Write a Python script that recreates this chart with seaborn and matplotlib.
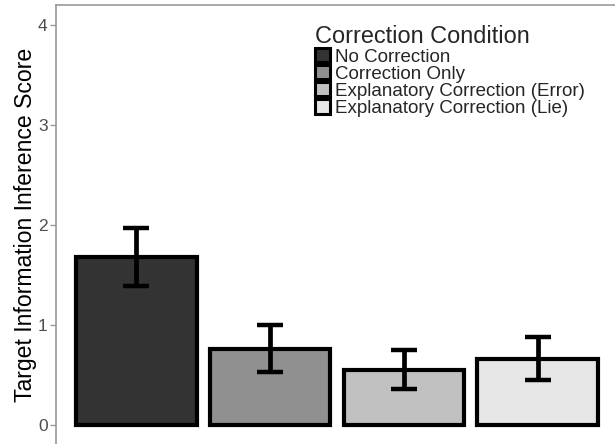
import numpy as np
import pandas as pd
import matplotlib
matplotlib.use("Agg")
import matplotlib.pyplot as plt
from matplotlib.patches import Patch
import seaborn as sns

# values
conditions = ["No Correction", "Correction Only",
              "Explanatory Correction (Error)", "Explanatory Correction (Lie)"]
scores = [1.68, 0.76, 0.55, 0.66]
ci_low = [1.39, 0.53, 0.36, 0.45]
ci_high = [1.97, 1.00, 0.75, 0.88]
fills = ["#333333", "#909090", "#c1c1c1", "#e6e6e6"]
y_ticks = [0, 1, 2, 3, 4]

df = pd.DataFrame({"condition": conditions, "score": scores,
                   "low": ci_low, "high": ci_high})

sns.set_theme(style="white")
plt.rcParams["font.family"] = ["Liberation Sans", "DejaVu Sans"]

fig = plt.figure(figsize=(6.15, 4.44), dpi=100)
ax = fig.add_axes([56 / 615, -1 / 444, 562 / 615, 440 / 444])

sns.barplot(data=df, x="condition", y="score", hue="condition",
            order=conditions, hue_order=conditions, palette=fills,
            width=0.9, dodge=False, errorbar=None, legend=False,
            edgecolor="black", linewidth=3, ax=ax)

xs = np.arange(len(conditions))
yerr = [df["score"] - df["low"], df["high"] - df["score"]]
ax.errorbar(xs, df["score"], yerr=yerr, fmt="none", ecolor="black",
            elinewidth=3.4, capsize=9.5, capthick=3.2, zorder=5)

ax.set_xlim(-0.6, 3.6)
ax.set_ylim(-0.2, 4.2)
ax.set_yticks(y_ticks)
ax.set_yticklabels([str(t) for t in y_ticks])
ax.set_xticks([])
ax.set_xlabel("")
ax.set_ylabel("Target Information Inference Score", fontsize=16.6,
              color="black")
ax.yaxis.set_label_coords(-0.033, 0.5)
ax.tick_params(axis="y", left=True, length=4, width=1, color="#999999",
               labelsize=12.5, labelcolor="#4d4d4d", pad=2)

for side in ["top", "left", "right", "bottom"]:
    ax.spines[side].set_color("#999999")
    ax.spines[side].set_linewidth(1.2)

keys = [Patch(facecolor=c, edgecolor="black", linewidth=2.2) for c in fills]
leg = ax.legend(handles=keys, labels=conditions,
                title="Correction Condition", loc="upper left",
                bbox_to_anchor=(0.512, 0.944), bbox_transform=fig.transFigure,
                frameon=False, fontsize=13.5, title_fontsize=16.9,
                handlelength=0.8, handleheight=0.8, handletextpad=0.26,
                labelspacing=-0.03, borderpad=0, borderaxespad=0)
leg._legend_box.align = "left"
leg._legend_box.sep = 0

fig.savefig("out.png", dpi=100)
